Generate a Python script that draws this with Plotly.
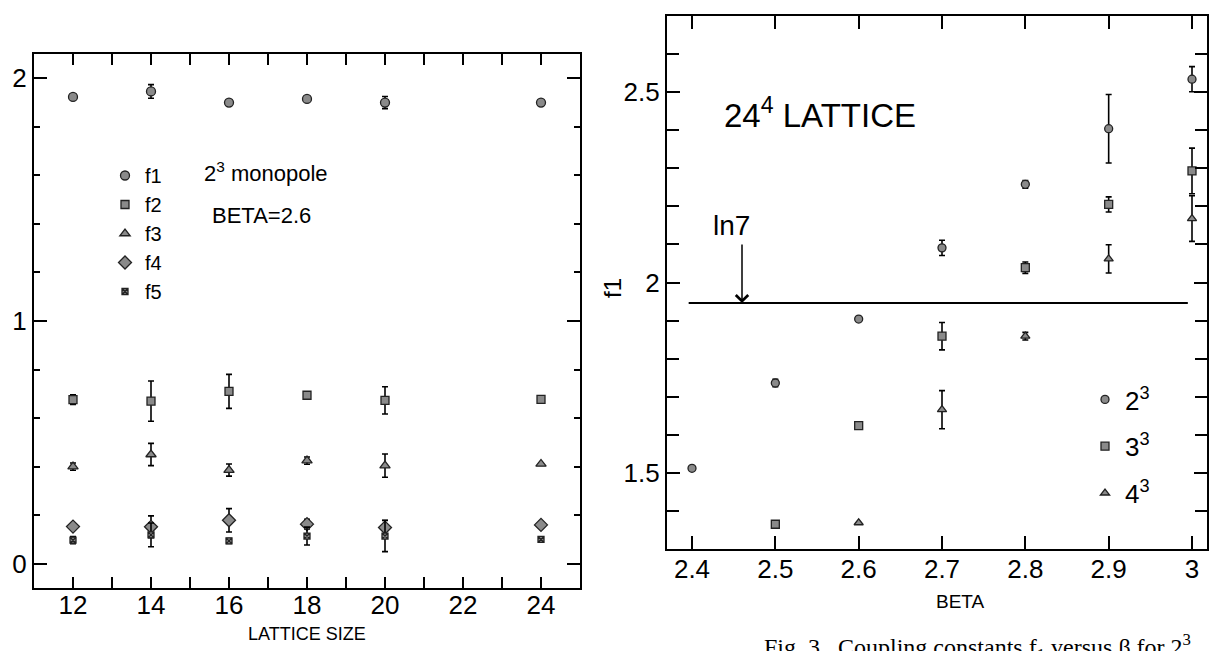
import numpy as np
import plotly.graph_objects as go

# ---------------- left panel data ----------------
lattice_size = [12, 14, 16, 18, 20, 24]
f1_vals = [1.923, 1.946, 1.900, 1.915, 1.900, 1.900]
f1_err = [0.010, 0.028, 0.010, 0.008, 0.025, 0.0]
f2_vals = [0.676, 0.670, 0.710, 0.694, 0.673, 0.677]
f2_err = [0.020, 0.083, 0.070, 0.010, 0.056, 0.0]
f3_vals = [0.400, 0.450, 0.386, 0.425, 0.404, 0.411]
f3_err = [0.015, 0.046, 0.025, 0.015, 0.048, 0.0]
f4_vals = [0.153, 0.152, 0.179, 0.163, 0.149, 0.160]
f4_err = [0.010, 0.045, 0.048, 0.020, 0.030, 0.0]
f5_vals = [0.097, 0.119, 0.094, 0.114, 0.114, 0.100]
f5_err = [0.015, 0.049, 0.010, 0.037, 0.064, 0.0]

left_xticks = [12, 14, 16, 18, 20, 22, 24]
left_yticks = [0, 1, 2]

# ---------------- right panel data ----------------
beta_2 = [2.4, 2.5, 2.6, 2.7, 2.8, 2.9, 3.0]
mono2_vals = [1.512, 1.736, 1.904, 2.091, 2.258, 2.404, 2.534]
mono2_err = [0.0, 0.010, 0.0, 0.020, 0.010, 0.090, 0.033]
beta_3 = [2.5, 2.6, 2.7, 2.8, 2.9, 3.0]
mono3_vals = [1.365, 1.624, 1.859, 2.039, 2.205, 2.293]
mono3_err = [0.0, 0.0, 0.036, 0.015, 0.020, 0.060]
beta_4 = [2.6, 2.7, 2.8, 2.9, 3.0]
mono4_vals = [1.369, 1.666, 1.859, 2.062, 2.168]
mono4_err = [0.0, 0.050, 0.010, 0.037, 0.060]

ln7_x = [2.396, 2.995]
ln7_value = float(np.log(7))

right_xticks = [2.4, 2.5, 2.6, 2.7, 2.8, 2.9, 3.0]
right_xticktext = ["2.4", "2.5", "2.6", "2.7", "2.8", "2.9", "3"]
right_yticks = [1.5, 2.0, 2.5]
right_yticktext = ["1.5", "2", "2.5"]

FONT = "Liberation Sans"
W, H = 1210, 651

fig = go.Figure()


def err(arr):
    return dict(type="data", array=arr, visible=True, thickness=1.6,
                width=3, color="black")


def mk(symbol, size=9):
    return dict(symbol=symbol, size=size, color="#8a8a8a",
                line=dict(color="#222222", width=1.3))


left_series = [
    ("f1", f1_vals, f1_err, "circle", 9),
    ("f2", f2_vals, f2_err, "square", 8),
    ("f3", f3_vals, f3_err, "triangle-up", 9),
    ("f4", f4_vals, f4_err, "diamond", 10),
    ("f5", f5_vals, f5_err, "square-x", 6),
]
for name, vals, e, sym, sz in left_series:
    fig.add_trace(go.Scatter(
        x=lattice_size, y=vals, mode="markers", name=name,
        marker=mk(sym, sz), error_y=err(e),
        xaxis="x", yaxis="y", legend="legend"))

right_series = [
    ("2<sup>3</sup>", beta_2, mono2_vals, mono2_err, "circle", "g2"),
    ("3<sup>3</sup>", beta_3, mono3_vals, mono3_err, "square", "g3"),
    ("4<sup>3</sup>", beta_4, mono4_vals, mono4_err, "triangle-up", "g4"),
]
for name, xs, vals, e, sym, grp in right_series:
    fig.add_trace(go.Scatter(
        x=xs, y=vals, mode="markers", name=name, legendgroup=grp,
        marker=mk(sym, 8), error_y=err(e),
        xaxis="x2", yaxis="y2", legend="legend2"))

fig.add_trace(go.Scatter(
    x=ln7_x, y=[ln7_value] * len(ln7_x), mode="lines",
    line=dict(color="black", width=2), showlegend=False,
    xaxis="x2", yaxis="y2", hoverinfo="skip"))

tickfont = dict(family=FONT, size=26, color="black")
axis_common = dict(showline=True, linewidth=2.2, linecolor="black",
                   mirror="ticks", ticks="inside", tickwidth=2,
                   tickcolor="black", showgrid=False, zeroline=False,
                   tickfont=tickfont)

fig.update_layout(
    width=W, height=H,
    margin=dict(l=0, r=0, t=0, b=0),
    paper_bgcolor="white", plot_bgcolor="white",
    font=dict(family=FONT, color="black"),
    xaxis=dict(domain=[34 / W, 580 / W], range=[11, 25], anchor="y",
               tickmode="array", tickvals=left_xticks, ticklen=11,
               ticklabelstandoff=-7,
               minor=dict(dtick=1, tick0=11, ticks="inside", ticklen=11,
                          tickwidth=2, tickcolor="black"),
               **axis_common),
    yaxis=dict(domain=[1 - 588 / H, 1 - 54 / H], range=[-0.1, 2.1], anchor="x",
               tickmode="array", tickvals=left_yticks, ticklen=13,
               minor=dict(dtick=0.2, tick0=0, ticks="inside", ticklen=6,
                          tickwidth=2, tickcolor="black"),
               **axis_common),
    xaxis2=dict(domain=[667 / W, 1207 / W], range=[2.37, 3.018], anchor="y2",
                tickmode="array", tickvals=right_xticks,
                ticktext=right_xticktext, ticklen=13, ticklabelstandoff=-4,
                **axis_common),
    yaxis2=dict(domain=[1 - 549 / H, 1 - 16 / H], range=[1.3, 2.7], anchor="x2",
                tickmode="array", tickvals=right_yticks,
                ticktext=right_yticktext, ticklen=13,
                minor=dict(dtick=0.1, tick0=1.3, ticks="inside", ticklen=12,
                           tickwidth=2, tickcolor="black"),
                **axis_common),
    legend=dict(x=105 / W, y=1 - 156 / H, xanchor="left", yanchor="top",
                bgcolor="rgba(0,0,0,0)", borderwidth=0,
                font=dict(family=FONT, size=20, color="black"),
                itemwidth=30, tracegroupgap=0),
    legend2=dict(x=1085 / W, y=1 - 376 / H, xanchor="left", yanchor="top",
                 bgcolor="rgba(0,0,0,0)", borderwidth=0,
                 font=dict(family=FONT, size=26, color="black"),
                 itemwidth=30, tracegroupgap=10),
    showlegend=True,
)

annotations = [
    dict(text="2<sup>3</sup> monopole", x=15.3, y=1.612, xref="x", yref="y",
         xanchor="left", yanchor="middle", showarrow=False,
         font=dict(family=FONT, size=22, color="black")),
    dict(text="BETA=2.6", x=15.5, y=1.434, xref="x", yref="y",
         xanchor="left", yanchor="middle", showarrow=False,
         font=dict(family=FONT, size=22, color="black")),
    dict(text="LATTICE SIZE", x=307 / W, y=1 - 634 / H, xref="paper",
         yref="paper", xanchor="center", yanchor="middle", showarrow=False,
         font=dict(family=FONT, size=18, color="black")),
    dict(text="24<sup>4</sup> LATTICE", x=2.436, y=2.446, xref="x2", yref="y2",
         xanchor="left", yanchor="middle", showarrow=False,
         font=dict(family=FONT, size=33, color="black")),
    dict(text="ln7", x=2.423, y=2.15, xref="x2", yref="y2",
         xanchor="left", yanchor="middle", showarrow=False,
         font=dict(family=FONT, size=28, color="black")),
    dict(text="", x=2.46, y=ln7_value, xref="x2", yref="y2",
         ax=0, ay=-60, axref="pixel", ayref="pixel", showarrow=True,
         arrowhead=4, arrowsize=1.6, arrowwidth=1.5, arrowcolor="black"),
    dict(text="f1", x=612 / W, y=1 - 288 / H, xref="paper", yref="paper",
         xanchor="center", yanchor="middle", showarrow=False, textangle=-90,
         font=dict(family=FONT, size=24, color="black")),
    dict(text="BETA", x=960 / W, y=1 - 601 / H, xref="paper", yref="paper",
         xanchor="center", yanchor="middle", showarrow=False,
         font=dict(family=FONT, size=19, color="black")),
    dict(text="Fig. 3.  Coupling constants f<sub>1</sub> versus \u03b2 for 2<sup>3</sup>,",
         x=762 / W, y=1 - 628 / H, xref="paper", yref="paper",
         xanchor="left", yanchor="top", showarrow=False,
         font=dict(family="Liberation Serif", size=24, color="black")),
]
fig.update_layout(annotations=annotations)

fig.write_html("out.html")
